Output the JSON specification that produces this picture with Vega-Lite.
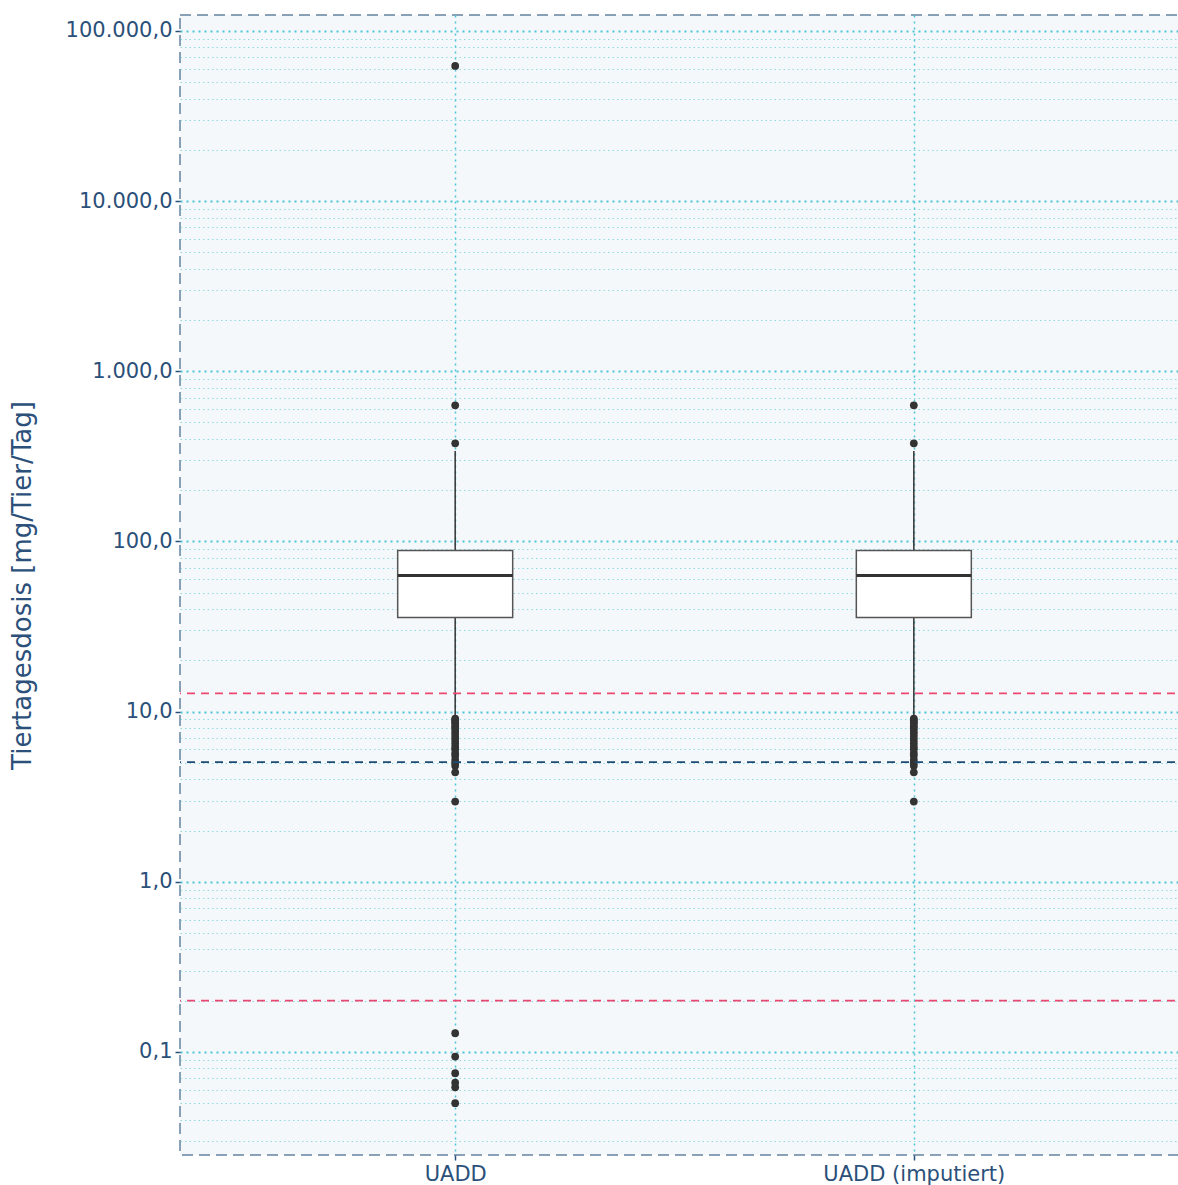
{
  "$schema": "https://vega.github.io/schema/vega-lite/v6.json",
  "width": 1009,
  "height": 1140,
  "autosize": {"type": "none"},
  "padding": {"left": 180, "top": 15, "right": 0, "bottom": 30},
  "config": {
    "locale": {"number": {"decimal": ",", "thousands": ".", "grouping": [3], "currency": ["", " €"]}},
    "font": "DejaVu Sans",
    "view": {"fill": "#f4f8fa", "stroke": "#6482a0", "strokeDash": [11, 6], "strokeWidth": 1.5}
  },
  "datasets": {
    "boxes": [
      {"cat": "UADD", "lo": 9.15, "q1": 35.7, "med": 63.1, "q3": 88.5, "hi": 340},
      {"cat": "UADD (imputiert)", "lo": 9.15, "q1": 35.7, "med": 63.1, "q3": 88.5, "hi": 340}
    ],
    "outliers": [
      {"cat": "UADD", "v": 62200}, {"cat": "UADD", "v": 631}, {"cat": "UADD", "v": 377},
      {"cat": "UADD", "v": 9.1}, {"cat": "UADD", "v": 8.9}, {"cat": "UADD", "v": 8.7}, {"cat": "UADD", "v": 8.5},
      {"cat": "UADD", "v": 8.2}, {"cat": "UADD", "v": 8.0}, {"cat": "UADD", "v": 7.7}, {"cat": "UADD", "v": 7.4},
      {"cat": "UADD", "v": 7.1}, {"cat": "UADD", "v": 6.8}, {"cat": "UADD", "v": 6.5}, {"cat": "UADD", "v": 6.2},
      {"cat": "UADD", "v": 6.0}, {"cat": "UADD", "v": 5.7}, {"cat": "UADD", "v": 5.5}, {"cat": "UADD", "v": 5.2},
      {"cat": "UADD", "v": 5.0}, {"cat": "UADD", "v": 4.8}, {"cat": "UADD", "v": 4.4}, {"cat": "UADD", "v": 2.96},
      {"cat": "UADD", "v": 0.129}, {"cat": "UADD", "v": 0.094}, {"cat": "UADD", "v": 0.075}, {"cat": "UADD", "v": 0.066},
      {"cat": "UADD", "v": 0.062}, {"cat": "UADD", "v": 0.05},
      {"cat": "UADD (imputiert)", "v": 631}, {"cat": "UADD (imputiert)", "v": 377},
      {"cat": "UADD (imputiert)", "v": 9.1}, {"cat": "UADD (imputiert)", "v": 8.9}, {"cat": "UADD (imputiert)", "v": 8.7}, {"cat": "UADD (imputiert)", "v": 8.5},
      {"cat": "UADD (imputiert)", "v": 8.2}, {"cat": "UADD (imputiert)", "v": 8.0}, {"cat": "UADD (imputiert)", "v": 7.7}, {"cat": "UADD (imputiert)", "v": 7.4},
      {"cat": "UADD (imputiert)", "v": 7.1}, {"cat": "UADD (imputiert)", "v": 6.8}, {"cat": "UADD (imputiert)", "v": 6.5}, {"cat": "UADD (imputiert)", "v": 6.2},
      {"cat": "UADD (imputiert)", "v": 6.0}, {"cat": "UADD (imputiert)", "v": 5.7}, {"cat": "UADD (imputiert)", "v": 5.5}, {"cat": "UADD (imputiert)", "v": 5.2},
      {"cat": "UADD (imputiert)", "v": 5.0}, {"cat": "UADD (imputiert)", "v": 4.8}, {"cat": "UADD (imputiert)", "v": 4.4}, {"cat": "UADD (imputiert)", "v": 2.96}
    ],
    "refs": [
      {"v": 12.8, "kind": "oben"},
      {"v": 0.2, "kind": "unten"},
      {"v": 5.05, "kind": "mitte"}
    ]
  },
  "layer": [
    {
      "data": {"name": "boxes"},
      "mark": {"type": "rule", "color": "#333333", "strokeWidth": 1.5},
      "encoding": {
        "x": {
          "field": "cat", "type": "nominal",
          "scale": {"type": "point", "padding": 0.6, "domain": ["UADD", "UADD (imputiert)"]},
          "axis": {
            "title": null, "labelAngle": 0, "domain": false, "labelLimit": 0,
            "labelFontSize": 21, "labelColor": "#2b5079", "labelPadding": 3,
            "tickSize": 5, "tickColor": "#2b5079", "tickWidth": 1.5,
            "grid": true, "gridColor": "#4cc4d6", "gridDash": [2, 4], "gridWidth": 1.5
          }
        },
        "y": {
          "field": "lo", "type": "quantitative",
          "scale": {"type": "log", "domain": [0.0248, 124000], "nice": false, "zero": false},
          "axis": {
            "title": "Tiertagesdosis [mg/Tier/Tag]",
            "titleFontSize": 26, "titleFontWeight": "normal", "titleColor": "#2b5079", "titlePadding": 30,
            "values": [0.03,0.04,0.05,0.06,0.07,0.08,0.09,0.1,0.2,0.3,0.4,0.5,0.6,0.7,0.8,0.9,1,2,3,4,5,6,7,8,9,10,20,30,40,50,60,70,80,90,100,200,300,400,500,600,700,800,900,1000,2000,3000,4000,5000,6000,7000,8000,9000,10000,20000,30000,40000,50000,60000,70000,80000,90000,100000],
            "format": ",.1f",
            "labelExpr": "abs(log(datum.value)/LN10 - round(log(datum.value)/LN10)) < 0.000001 ? datum.label : ''",
            "labelFontSize": 21, "labelColor": "#2b5079", "labelPadding": 3,
            "domain": false,
            "tickSize": 5, "tickColor": "#2b5079", "tickWidth": 1.5,
            "tickOpacity": {"condition": {"test": "abs(log(datum.value)/LN10 - round(log(datum.value)/LN10)) < 0.000001", "value": 1}, "value": 0},
            "grid": true,
            "gridColor": "#4cc4d6",
            "gridDash": {"condition": {"test": "abs(log(datum.value)/LN10 - round(log(datum.value)/LN10)) < 0.000001", "value": [2, 4]}, "value": [1.5, 3]},
            "gridWidth": {"condition": {"test": "abs(log(datum.value)/LN10 - round(log(datum.value)/LN10)) < 0.000001", "value": 1.8}, "value": 1},
            "gridOpacity": {"condition": {"test": "abs(log(datum.value)/LN10 - round(log(datum.value)/LN10)) < 0.000001", "value": 1}, "value": 0.6}
          }
        },
        "y2": {"field": "hi"}
      }
    },
    {
      "data": {"name": "boxes"},
      "mark": {"type": "bar", "size": 115, "fill": "#ffffff", "stroke": "#555555", "strokeWidth": 1.5},
      "encoding": {
        "x": {"field": "cat", "type": "nominal"},
        "y": {"field": "q1", "type": "quantitative"},
        "y2": {"field": "q3"}
      }
    },
    {
      "data": {"name": "boxes"},
      "mark": {"type": "tick", "size": 115, "thickness": 3, "color": "#333333", "opacity": 1},
      "encoding": {
        "x": {"field": "cat", "type": "nominal"},
        "y": {"field": "med", "type": "quantitative"}
      }
    },
    {
      "data": {"name": "outliers"},
      "mark": {"type": "circle", "size": 60, "color": "#333333", "opacity": 1},
      "encoding": {
        "x": {"field": "cat", "type": "nominal"},
        "y": {"field": "v", "type": "quantitative"}
      }
    },
    {
      "data": {"name": "refs"},
      "mark": {"type": "rule", "strokeDash": [8, 6], "strokeWidth": 1.8},
      "encoding": {
        "y": {"field": "v", "type": "quantitative"},
        "color": {"field": "kind", "type": "nominal", "scale": {"domain": ["oben", "unten", "mitte"], "range": ["#ec4770", "#ec4770", "#1f4a72"]}, "legend": null}
      }
    }
  ]
}
